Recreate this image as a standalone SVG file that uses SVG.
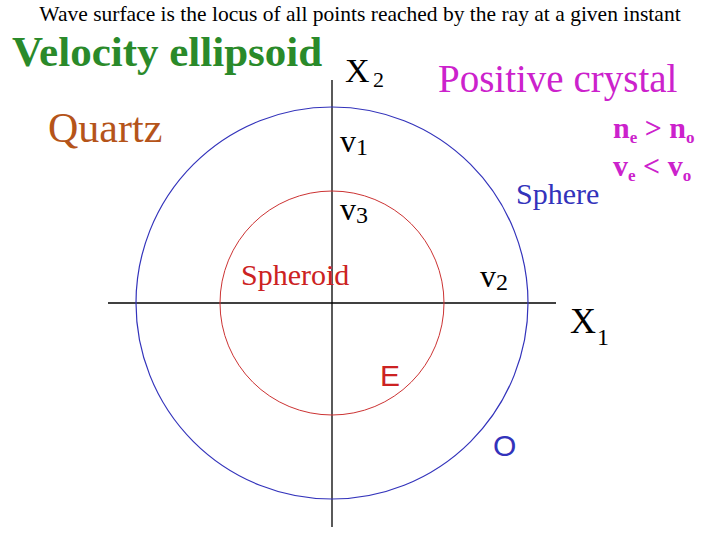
<svg xmlns="http://www.w3.org/2000/svg" width="720" height="540" viewBox="0 0 720 540">
<style>
text{font-family:"Liberation Serif",serif}
</style>
<rect width="720" height="540" fill="#fff"/>
<g id="connectors">
<line x1="332" y1="80" x2="332" y2="527" stroke="#000" stroke-width="1.3"/>
<line x1="108" y1="303" x2="556" y2="303" stroke="#000" stroke-width="1.3"/>
</g>
<g id="sphere"><circle cx="332" cy="303" r="196" fill="none" stroke="#3333bb" stroke-width="1.2"/></g>
<g id="spheroid"><circle cx="332" cy="303" r="112" fill="none" stroke="#cc3333" stroke-width="1"/></g>
<g id="labels">
<text x="360" y="21" font-size="21.5" text-anchor="middle">Wave surface is the locus of all points reached by the ray at a given instant</text>
<text x="12" y="66" font-size="43" font-weight="bold" fill="#2a8a2a">Velocity ellipsoid</text>
<text x="345" y="82" font-size="34">X</text><text x="373" y="87" font-size="22">2</text>
<text x="438" y="92" font-size="39" fill="#cc22cc">Positive crystal</text>
<text x="48" y="142" font-size="42" fill="#b5541a">Quartz</text>
<text x="613" y="138" font-size="30" font-weight="bold" fill="#cc22cc">n<tspan font-size="17" dy="5">e</tspan><tspan dy="-5"> &gt; n</tspan><tspan font-size="17" dy="5">o</tspan></text>
<text x="613" y="176" font-size="30" font-weight="bold" fill="#cc22cc">v<tspan font-size="17" dy="5">e</tspan><tspan dy="-5"> &lt; v</tspan><tspan font-size="17" dy="5">o</tspan></text>
<text x="516" y="204" font-size="30" fill="#3333bb">Sphere</text>
<text x="340" y="152" font-size="32">v<tspan font-size="24" dy="3">1</tspan></text>
<text x="340" y="220" font-size="32">v<tspan font-size="24" dy="3">3</tspan></text>
<text x="480" y="287" font-size="32">v<tspan font-size="24" dy="3">2</tspan></text>
<text x="241" y="285" font-size="30" fill="#cc2222">Spheroid</text>
<text x="570" y="333" font-size="36">X</text><text x="597" y="345" font-size="24">1</text>
<text x="380" y="386" font-size="30" fill="#cc2222" style="font-family:'Liberation Sans',sans-serif">E</text>
<text x="493" y="456" font-size="30" fill="#3333bb" style="font-family:'Liberation Sans',sans-serif">O</text>
</g>
</svg>
